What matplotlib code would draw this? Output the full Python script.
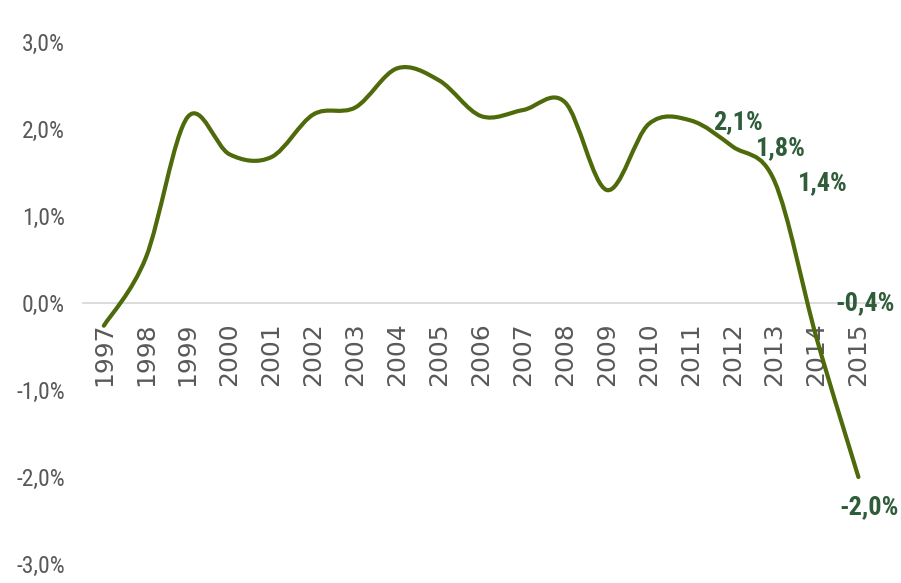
import matplotlib
matplotlib.use("Agg")
import matplotlib.pyplot as plt
from matplotlib.path import Path
from matplotlib.patches import PathPatch
import numpy as np

years = [str(y) for y in range(1997, 2016)]
growth = [-0.26, 0.52, 2.14, 1.71, 1.68, 2.17, 2.25, 2.70, 2.56, 2.15,
          2.22, 2.31, 1.30, 2.06, 2.10, 1.80, 1.40, -0.40, -2.00]
labelled_years = ["2011", "2012", "2013", "2014", "2015"]
label_texts = ["2,1%", "1,8%", "1,4%", "-0,4%", "-2,0%"]
yticks = [-3, -2, -1, 0, 1, 2, 3]
ytick_labels = ["-3,0%", "-2,0%", "-1,0%", "0,0%", "1,0%", "2,0%", "3,0%"]

line_color = "#4E6A0A"
label_color = "#2F5D3A"
tick_color = "#595959"
narrow = ["Roboto Condensed", "DejaVu Sans"]

fig = plt.figure(figsize=(9.01, 5.83), dpi=100)
ax = fig.add_axes([0.092, 0.0326, 0.884, 0.895])

x = np.arange(len(years))
ax.set_xlim(-0.5, len(years) - 0.5)
ax.set_ylim(-3, 3)

# smoothed line (Excel-style bezier through the points)
pts = np.column_stack([x, growth]).astype(float)
verts = [pts[0]]
codes = [Path.MOVETO]
n = len(pts)
for i in range(n - 1):
    p0 = pts[i - 1] if i > 0 else pts[i]
    p1 = pts[i]
    p2 = pts[i + 1]
    p3 = pts[i + 2] if i + 2 < n else pts[i + 1]
    verts += [p1 + (p2 - p0) / 6, p2 - (p3 - p1) / 6, p2]
    codes += [Path.CURVE4] * 3
ax.add_patch(PathPatch(Path(verts, codes), facecolor="none",
                       edgecolor=line_color, linewidth=3.0,
                       capstyle="round", joinstyle="round", zorder=3))

# data labels on the last points
offsets = [(16, -1), (16.5, -1.5), (16.5, -1.5), (13.5, 25), (-13.5, -22)]
for yr, txt, off in zip(labelled_years, label_texts, offsets):
    i = years.index(yr)
    ax.annotate(txt, (i, growth[i]), xytext=off, textcoords="offset points",
                ha="left", va="center", fontsize=19, fontweight="bold",
                color=label_color, family=narrow, zorder=4)

for s in ["top", "right", "left"]:
    ax.spines[s].set_visible(False)
ax.spines["bottom"].set_position(("data", 0))
ax.spines["bottom"].set_color("#D9D9D9")
ax.spines["bottom"].set_linewidth(1.3)

ax.set_xticks(x)
ax.set_xticklabels(years, rotation=90, fontsize=18, color=tick_color,
                   family="DejaVu Sans")
ax.tick_params(axis="x", length=0, pad=14)
ax.set_yticks(yticks)
ax.set_yticklabels(ytick_labels, fontsize=17, color=tick_color, family=narrow)
ax.tick_params(axis="y", length=0, pad=13)

fig.savefig("out.png", dpi=100)
